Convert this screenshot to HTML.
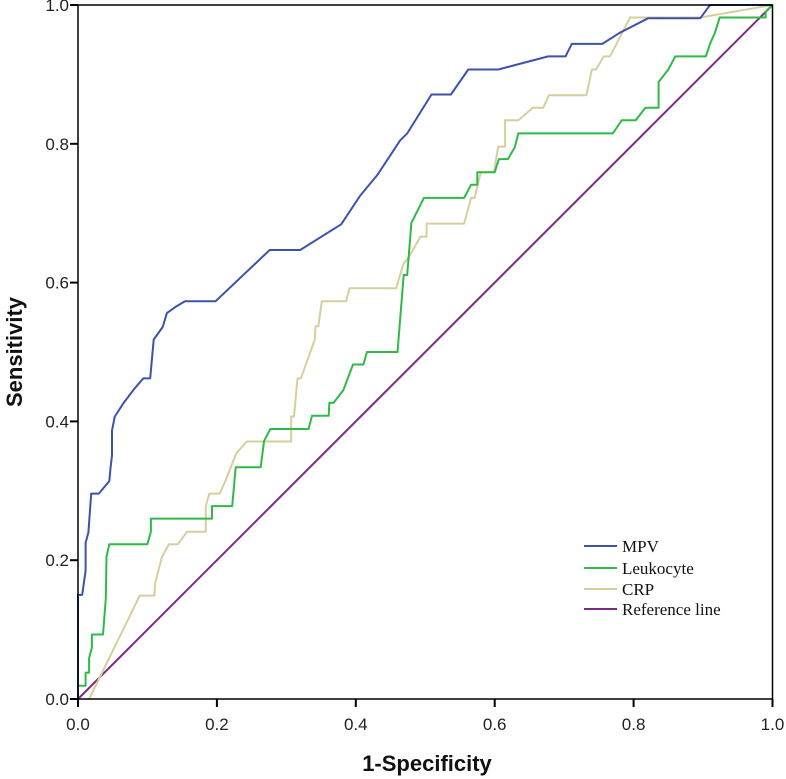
<!DOCTYPE html>
<html><head><meta charset="utf-8"><style>
html,body{margin:0;padding:0;background:#fff;}
svg{display:block;}
</style></head><body>
<svg id="chart" width="786" height="779" viewBox="0 0 786 779" xmlns="http://www.w3.org/2000/svg">
<g id="grid"></g>
<g id="series"></g>
<g id="axes"></g>
<g id="legend"></g>
</svg>
<script>
const xTicks = [0, 0.2, 0.4, 0.6, 0.8, 1.0];
const yTicks = [0, 0.2, 0.4, 0.6, 0.8, 1.0];
const tickLabels = ["0.0", "0.2", "0.4", "0.6", "0.8", "1.0"];
const seriesNames = ["MPV", "Leukocyte", "CRP", "Reference line"];
const mpvX = [0,0,0.006,0.011,0.011,0.015,0.019,0.030,0.045,0.047,0.049,0.049,0.053,0.066,0.081,0.094,0.104,0.109,0.122,0.128,0.142,0.154,0.198,0.276,0.320,0.379,0.406,0.431,0.464,0.474,0.509,0.537,0.562,0.605,0.677,0.702,0.711,0.755,0.78,0.821,0.896,0.91,1];
const mpvY = [0,0.15,0.15,0.185,0.225,0.24,0.296,0.296,0.314,0.334,0.351,0.387,0.407,0.427,0.447,0.462,0.462,0.518,0.536,0.556,0.566,0.573,0.573,0.647,0.647,0.684,0.725,0.755,0.805,0.815,0.871,0.871,0.907,0.907,0.926,0.926,0.944,0.944,0.96,0.981,0.981,1,1];
const leukX = [0,0,0.011,0.011,0.016,0.016,0.020,0.020,0.036,0.040,0.041,0.045,0.100,0.105,0.105,0.193,0.193,0.222,0.227,0.263,0.268,0.277,0.332,0.337,0.361,0.362,0.368,0.382,0.396,0.411,0.416,0.460,0.469,0.474,0.48,0.498,0.556,0.566,0.575,0.575,0.6,0.606,0.619,0.629,0.634,0.77,0.783,0.803,0.817,0.836,0.836,0.85,0.86,0.904,0.91,0.917,0.924,0.99,0.99,1];
const leukY = [0,0.019,0.019,0.038,0.038,0.059,0.074,0.093,0.093,0.145,0.205,0.223,0.223,0.241,0.26,0.26,0.278,0.278,0.334,0.334,0.372,0.389,0.389,0.408,0.408,0.427,0.427,0.445,0.482,0.482,0.5,0.5,0.611,0.611,0.686,0.722,0.722,0.741,0.741,0.759,0.759,0.778,0.778,0.795,0.815,0.815,0.834,0.834,0.852,0.852,0.889,0.907,0.926,0.926,0.944,0.96,0.982,0.982,0.99,1];
const crpX = [0.016,0.089,0.110,0.111,0.121,0.131,0.144,0.157,0.184,0.184,0.189,0.204,0.213,0.228,0.243,0.307,0.307,0.311,0.316,0.321,0.341,0.342,0.346,0.351,0.386,0.391,0.458,0.469,0.476,0.483,0.493,0.502,0.502,0.556,0.566,0.571,0.58,0.599,0.605,0.615,0.615,0.634,0.655,0.67,0.678,0.732,0.74,0.746,0.757,0.766,0.795,0.896,1];
const crpY = [0,0.149,0.149,0.167,0.205,0.223,0.223,0.241,0.241,0.278,0.296,0.296,0.316,0.354,0.371,0.371,0.407,0.407,0.462,0.462,0.518,0.537,0.537,0.573,0.573,0.592,0.592,0.628,0.636,0.648,0.666,0.666,0.685,0.685,0.722,0.722,0.759,0.759,0.796,0.796,0.834,0.834,0.852,0.852,0.87,0.87,0.907,0.907,0.926,0.926,0.982,0.982,1];
const refX = [0, 1];
const refY = [0, 1];

const NS = "http://www.w3.org/2000/svg";
const X0 = 78, X1 = 772.5, Y0 = 699, Y1 = 5;
function sx(v){ return X0 + v*(X1-X0); }
function sy(v){ return Y0 - v*(Y0-Y1); }
function mk(tag, attrs, parent){
  const e = document.createElementNS(NS, tag);
  for (const k in attrs) e.setAttribute(k, attrs[k]);
  parent.appendChild(e);
  return e;
}
const axes = document.getElementById('axes');
const series = document.getElementById('series');
const legend = document.getElementById('legend');

const frame = mk('rect', {x:X0, y:Y1, width:X1-X0, height:Y0-Y1, fill:'none', stroke:'#000', 'stroke-width':1.5}, axes);



xTicks.forEach((t,i)=>{
  const x = sx(t);
  const tk = mk('line', {x1:x, x2:x, y1:Y0, y2:Y0+8, stroke:'#000', 'stroke-width':2}, axes);
  
  
  const lb = mk('text', {x:x, y:Y0+31, 'text-anchor':'middle', 'font-family':'Liberation Sans, sans-serif', 'font-size':17, fill:'#222'}, axes);
  lb.textContent = tickLabels[i];
  
  
});
yTicks.forEach((t,i)=>{
  const y = sy(t);
  const tk = mk('line', {x1:X0-8, x2:X0, y1:y, y2:y, stroke:'#000', 'stroke-width':2}, axes);
  
  
  const lb = mk('text', {x:X0-9, y:y+6, 'text-anchor':'end', 'font-family':'Liberation Sans, sans-serif', 'font-size':17, fill:'#222'}, axes);
  lb.textContent = tickLabels[i];
  
  
});
const xt = mk('text', {x:427, y:771, 'text-anchor':'middle', 'font-family':'Liberation Sans, sans-serif', 'font-size':22, 'font-weight':'bold', fill:'#111'}, axes);
xt.textContent = '1-Specificity';


const yt = mk('text', {x:0, y:0, transform:'translate(22,352) rotate(-90)', 'text-anchor':'middle', 'font-family':'Liberation Sans, sans-serif', 'font-size':22, 'font-weight':'bold', fill:'#111'}, axes);
yt.textContent = 'Sensitivity';



const colors = ['#3d52ab', '#2fba48', '#d6cf9c', '#7d2a88'];
const data = [[mpvX,mpvY],[leukX,leukY],[crpX,crpY],[refX,refY]];
const order = [3,2,1,0];
order.forEach(i=>{
  const [xs, ys] = data[i];
  const pts = xs.map((v,j)=>sx(v).toFixed(1)+','+sy(ys[j]).toFixed(1)).join(' ');
  const pl = mk('polyline', {points:pts, fill:'none', stroke:colors[i], 'stroke-width':2, 'stroke-linejoin':'round'}, series);
  
  
});

const rows = [546, 568, 589, 609];
seriesNames.forEach((n,i)=>{
  const g = mk('g', {}, legend);
  
  
  mk('line', {x1:584, x2:617, y1:rows[i], y2:rows[i], stroke:colors[i], 'stroke-width':2}, g);
  const t = mk('text', {x:622, y:rows[i]+6, 'font-family':'Liberation Serif, serif', 'font-size':17, fill:'#111'}, g);
  t.textContent = n;
});
</script>
</body></html>
